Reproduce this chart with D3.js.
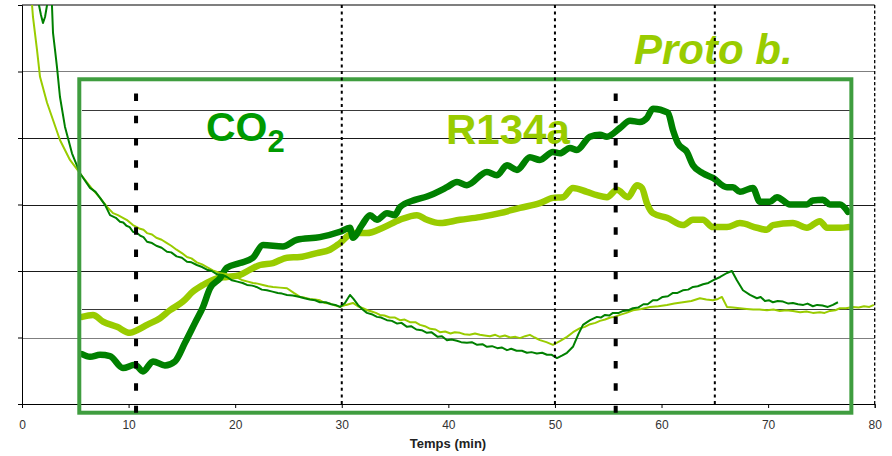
<!DOCTYPE html>
<html>
<head>
<meta charset="utf-8">
<script src="https://cdn.jsdelivr.net/npm/d3@7/dist/d3.min.js"></script>
<style>
  body { margin: 0; background: #fff; }
  svg { display: block; }
  text { font-family: "Liberation Sans", Arial, sans-serif; }
</style>
</head>
<body>
<svg id="chart" width="892" height="456"></svg>
<script>
// Time axis (min)
const timeTicks = [0, 10, 20, 30, 40, 50, 60, 70, 80];
// Horizontal grid levels (value axis has no labels)
const gridLevels = [1, 2, 3, 4, 5];
const minorLevels = [1, 5];
// Event markers (min)
const dottedMarkers = [30, 50, 65];
const dashedMarkers = [10.7, 55.7];

// Smoothed curves [time, value]
const co2Smooth = [
  [5.63,0.75],[6.38,0.71],[7.32,0.74],[8.26,0.72],[9.47,0.54],[10.6,0.59],[11.35,0.49],
  [12.29,0.64],[13.41,0.58],[14.35,0.64],[15.29,0.92],[16.23,1.22],[16.98,1.46],[17.64,1.74],
  [18.57,1.89],[19.23,2.05],[20.45,2.12],[21.67,2.20],[22.61,2.39],[24.48,2.37],[25.8,2.47],
  [27.95,2.51],[29.83,2.59],[30.77,2.65],[31.05,2.50],[31.89,2.69],[32.65,2.84],[33.3,2.77],
  [34.24,2.87],[34.99,2.84],[35.46,2.96],[36.87,3.07],[37.99,3.12],[39.87,3.26],[40.81,3.34],
  [41.74,3.29],[43.62,3.49],[44.56,3.44],[45.5,3.59],[46.44,3.52],[47.65,3.71],[48.59,3.67],
  [49.81,3.79],[50.47,3.77],[51.41,3.85],[52.06,3.82],[53.28,4.02],[54.22,4.05],[54.88,4.02],
  [56.1,4.15],[57.04,4.26],[57.97,4.24],[58.63,4.30],[59.19,4.44],[60.6,4.38],[61.07,4.12],
  [61.54,3.92],[62.38,3.79],[62.95,3.59],[63.88,3.47],[64.82,3.40],[66.14,3.26],[66.7,3.26],
  [67.35,3.19],[68.57,3.25],[69.23,3.04],[70.17,3.04],[70.83,3.11],[72.05,3.00],[73.64,3.00],
  [74.2,3.06],[75.14,3.07],[75.8,3.00],[76.74,3.00],[77.49,2.89]
];
const r134aSmooth = [
  [5.63,1.31],[6.66,1.34],[7.6,1.24],[8.91,1.16],[10.13,1.07],[10.79,1.11],[11.73,1.19],
  [12.95,1.29],[13.88,1.41],[15.1,1.54],[16.04,1.69],[16.98,1.79],[18.29,1.89],[19.23,1.91],
  [20.45,1.94],[21.39,2.02],[22.33,2.09],[23.55,2.12],[24.86,2.20],[26.08,2.21],[27.67,2.27],
  [28.89,2.32],[29.83,2.42],[31.05,2.57],[32.36,2.57],[33.86,2.65],[35.46,2.77],[37.05,2.84],
  [37.99,2.77],[39.21,2.72],[41.09,2.77],[42.96,2.81],[44.84,2.87],[46.72,2.95],[48.59,3.02],
  [49.81,3.10],[50.75,3.11],[51.69,3.25],[53.0,3.19],[53.94,3.14],[54.88,3.11],[55.82,3.22],
  [56.85,3.11],[57.69,3.29],[58.16,3.25],[58.63,3.02],[59.19,2.87],[60.51,2.80],[62.01,2.69],
  [62.95,2.77],[63.88,2.77],[64.82,2.66],[66.14,2.66],[67.35,2.72],[68.95,2.65],[69.89,2.62],
  [70.45,2.69],[72.33,2.72],[73.64,2.65],[74.86,2.75],[75.52,2.65],[76.74,2.65],[77.49,2.66]
];
// Raw curves [time, value]
const co2Raw = [
  [1.3,6.3],[1.59,6.0],[1.78,5.85],[1.97,5.73],[2.16,5.82],[2.35,6.0],[2.44,6.15],[2.67,6.15],
  [2.81,6.0],[2.91,5.58],[3.1,5.32],[3.28,5.07],[3.56,4.62],[4.03,4.17],[4.69,3.77],[5.44,3.47],
  [6.38,3.25],[6.9,3.19],[7.32,3.10],[7.8,2.99],[8.26,2.84],[8.8,2.80],[9.19,2.74],[9.5,2.73],
  [9.8,2.68],[10.1,2.66],[10.41,2.59],[10.8,2.57],[11.1,2.53],[11.4,2.51],[11.73,2.44],
  [12.2,2.42],[12.6,2.38],[13.1,2.35],[13.6,2.29],[14.0,2.28],[14.5,2.22],[15.0,2.20],
  [15.48,2.14],[15.9,2.13],[16.4,2.09],[16.9,2.06],[17.35,2.02],[17.8,2.00],[18.3,1.95],
  [18.8,1.94],[19.23,1.91],[19.7,1.86],[20.2,1.84],[20.7,1.82],[21.11,1.79],[21.6,1.78],
  [22.0,1.76],[22.5,1.72],[22.98,1.71],[23.5,1.69],[24.0,1.67],[24.4,1.66],[24.86,1.64],
  [25.4,1.63],[26.08,1.61],[26.5,1.59],[27.0,1.57],[27.5,1.56],[27.95,1.53],[28.5,1.53],
  [29.0,1.50],[29.4,1.49],[29.83,1.46],[30.3,1.52],[30.77,1.64],[31.1,1.58],[31.52,1.49],
  [31.9,1.43],[32.36,1.37],[32.8,1.35],[33.3,1.31],[33.7,1.30],[34.24,1.26],[34.7,1.25],
  [35.2,1.21],[35.6,1.22],[36.12,1.16],[36.5,1.17],[37.0,1.12],[37.5,1.11],[37.99,1.07],
  [38.4,1.08],[39.0,1.01],[39.4,1.02],[39.87,0.96],[40.3,0.97],[40.8,0.95],[41.2,0.93],
  [41.74,0.92],[42.2,0.93],[42.7,0.89],[43.2,0.90],[43.62,0.86],[44.1,0.87],[44.6,0.84],
  [45.0,0.85],[45.5,0.81],[45.9,0.83],[46.4,0.80],[46.9,0.80],[47.37,0.77],[47.8,0.78],
  [48.3,0.76],[48.8,0.77],[49.25,0.74],[49.7,0.74],[50.19,0.69],[50.7,0.73],[51.13,0.77],
  [51.69,0.86],[52.2,1.05],[52.63,1.19],[53.3,1.26],[53.94,1.31],[54.3,1.30],[54.7,1.34],
  [55.1,1.33],[55.44,1.37],[56.0,1.37],[56.4,1.40],[56.9,1.41],[57.32,1.44],[57.8,1.45],
  [58.3,1.50],[58.7,1.50],[59.19,1.56],[59.6,1.56],[60.1,1.61],[60.6,1.62],[61.07,1.67],
  [61.5,1.67],[62.0,1.71],[62.5,1.72],[62.95,1.76],[63.4,1.77],[63.9,1.80],[64.4,1.82],
  [64.82,1.86],[65.5,1.91],[66.14,1.97],[66.6,2.00],[67.07,1.86],[67.64,1.71],[68.3,1.64],
  [68.95,1.59],[69.3,1.61],[69.7,1.55],[70.1,1.56],[70.45,1.53],[70.9,1.55],[71.4,1.54],
  [71.9,1.51],[72.33,1.52],[72.8,1.50],[73.3,1.49],[73.7,1.51],[74.2,1.47],[74.6,1.49],
  [75.1,1.48],[75.6,1.46],[76.08,1.49],[76.55,1.53]
];
const r134aRaw = [
  [0.7,6.4],[0.94,6.0],[1.03,5.82],[1.41,5.32],[1.69,4.92],[2.35,4.53],[2.91,4.27],[3.56,3.97],
  [4.5,3.67],[5.72,3.41],[6.5,3.25],[7.32,3.10],[8.0,2.96],[8.54,2.87],[9.0,2.84],[9.47,2.80],
  [9.9,2.76],[10.41,2.69],[11.0,2.64],[11.4,2.62],[11.73,2.57],[12.2,2.55],[12.6,2.50],
  [13.1,2.47],[13.6,2.42],[14.0,2.38],[14.5,2.32],[15.0,2.27],[15.48,2.21],[15.9,2.19],
  [16.4,2.13],[16.9,2.10],[17.35,2.06],[17.9,2.01],[18.57,1.97],[19.2,1.95],[19.79,1.91],
  [20.2,1.90],[20.7,1.86],[21.2,1.84],[21.67,1.82],[22.1,1.81],[22.6,1.79],[23.1,1.77],
  [23.55,1.76],[24.2,1.75],[24.86,1.74],[25.5,1.67],[26.08,1.61],[26.5,1.60],[27.0,1.58],
  [27.5,1.57],[27.95,1.56],[28.4,1.52],[28.9,1.51],[29.4,1.48],[29.83,1.46],[30.4,1.49],
  [31.05,1.52],[31.5,1.47],[31.99,1.44],[32.4,1.41],[32.8,1.39],[33.2,1.37],[33.58,1.34],
  [34.0,1.33],[34.5,1.30],[35.0,1.30],[35.46,1.26],[35.9,1.27],[36.4,1.23],[36.9,1.23],
  [37.34,1.19],[37.8,1.17],[38.3,1.13],[38.8,1.12],[39.21,1.08],[39.7,1.09],[40.2,1.06],
  [40.6,1.08],[41.09,1.07],[41.5,1.05],[42.0,1.04],[42.5,1.06],[42.96,1.04],[43.4,1.03],
  [43.9,1.02],[44.4,1.04],[44.84,1.01],[45.3,1.03],[45.8,1.00],[46.3,1.01],[46.72,0.99],
  [47.2,1.02],[47.65,1.04],[48.1,1.00],[48.59,0.96],[49.2,0.93],[49.81,0.89],[50.5,0.95],
  [51.13,1.01],[51.7,1.08],[52.35,1.14],[52.8,1.16],[53.3,1.20],[53.8,1.22],[54.22,1.25],
  [54.7,1.27],[55.2,1.30],[55.6,1.31],[56.1,1.34],[56.7,1.37],[57.32,1.41],[58.1,1.43],
  [58.91,1.46],[59.7,1.47],[60.51,1.49],[61.2,1.51],[62.01,1.53],[62.8,1.55],[63.6,1.59],
  [64.2,1.57],[64.82,1.56],[65.3,1.58],[65.67,1.61],[66.14,1.46],[66.7,1.45],[67.35,1.44],
  [68.0,1.43],[68.6,1.42],[69.2,1.42],[69.89,1.41],[70.5,1.42],[71.1,1.40],[71.7,1.41],
  [72.33,1.40],[73.0,1.38],[73.6,1.39],[74.2,1.37],[74.86,1.38],[75.3,1.37],[75.8,1.40],
  [76.3,1.41],[76.74,1.44],[77.3,1.44],[77.95,1.46],[78.5,1.45],[79.0,1.47],[79.5,1.46],
  [79.92,1.49]
];

const svg = d3.select("#chart");
const x = d3.scaleLinear().domain([0, 80]).range([22, 874.7]);
const y = d3.scaleLinear().domain([0, 6]).range([404, 5]);

const LIGHT = "#99cc00", DARK = "#008000", TEXT_DARK = "#009a00", FRAME = "#3f9d3f";

svg.append("defs").append("clipPath").attr("id", "plot-clip")
  .append("rect")
  .attr("x", x(0)).attr("y", y(6))
  .attr("width", x(80) - x(0)).attr("height", y(0) - y(6));

// Horizontal grid
svg.append("g").selectAll("line").data(gridLevels).join("line")
  .attr("x1", x(0)).attr("x2", x(80))
  .attr("y1", d => Math.round(y(d)) + 0.5).attr("y2", d => Math.round(y(d)) + 0.5)
  .attr("stroke", d => minorLevels.includes(d) ? "#7f7f7f" : "#1a1a1a")
  .attr("stroke-width", 1);

// Inner reference lines of the highlighted window
const innerRefs = [
  { v: 4.42, from: 5.63, to: 77.67 },
  { v: 1.43, from: 5.63, to: 80 }
];
svg.append("g").selectAll("line").data(innerRefs).join("line")
  .attr("x1", d => x(d.from)).attr("x2", d => x(d.to))
  .attr("y1", d => Math.round(y(d.v)) + 0.5).attr("y2", d => Math.round(y(d.v)) + 0.5)
  .attr("stroke", "#3a3a3a").attr("stroke-width", 1);

// Axes
const xAxis = svg.append("g").attr("transform", `translate(0,${y(0)})`)
  .call(d3.axisBottom(x).tickValues(timeTicks).tickSize(4).tickPadding(12).tickFormat(d3.format("d")));
xAxis.select(".domain").attr("stroke", "#000");
xAxis.selectAll(".tick line").attr("stroke", "#000");
xAxis.selectAll(".tick text").attr("font-size", 12).attr("fill", "#333")
  .attr("font-family", "'Liberation Sans', Arial, sans-serif");

const yAxis = svg.append("g").attr("transform", `translate(${x(0)},0)`)
  .call(d3.axisLeft(y).tickValues([0, 1, 2, 3, 4, 5, 6]).tickSize(4).tickFormat(""));
yAxis.select(".domain").attr("stroke", "#000");
yAxis.selectAll(".tick line").attr("stroke", "#000");

// Top border
svg.append("line")
  .attr("x1", x(0)).attr("x2", x(80)).attr("y1", y(6)).attr("y2", y(6))
  .attr("stroke", "#000").attr("stroke-width", 1.2);

// Curves
const plot = svg.append("g").attr("clip-path", "url(#plot-clip)");
const smoothLine = d3.line().x(d => x(d[0])).y(d => y(d[1])).curve(d3.curveMonotoneX);
const rawLine = d3.line().x(d => x(d[0])).y(d => y(d[1])).curve(d3.curveLinear);

plot.append("path").datum(r134aSmooth).attr("d", smoothLine)
  .attr("fill", "none").attr("stroke", LIGHT).attr("stroke-width", 6.5)
  .attr("stroke-linejoin", "round").attr("stroke-linecap", "round");
plot.append("path").datum(co2Smooth).attr("d", smoothLine)
  .attr("fill", "none").attr("stroke", DARK).attr("stroke-width", 6.5)
  .attr("stroke-linejoin", "round").attr("stroke-linecap", "round");
plot.append("path").datum(r134aRaw).attr("d", rawLine)
  .attr("fill", "none").attr("stroke", LIGHT).attr("stroke-width", 2)
  .attr("stroke-linejoin", "round");
plot.append("path").datum(co2Raw).attr("d", rawLine)
  .attr("fill", "none").attr("stroke", DARK).attr("stroke-width", 2)
  .attr("stroke-linejoin", "round");

// Highlighted window
svg.append("rect")
  .attr("x", x(5.375)).attr("y", y(4.883))
  .attr("width", x(77.81) - x(5.375)).attr("height", y(-0.131) - y(4.883))
  .attr("fill", "none").attr("stroke", FRAME).attr("stroke-width", 4);

// Labels
const co2Label = svg.append("text")
  .attr("x", 206).attr("y", 141)
  .attr("font-size", 41).attr("font-weight", "bold").attr("fill", TEXT_DARK);
co2Label.append("tspan").text("CO");
co2Label.append("tspan").attr("font-size", 31).attr("dy", 11).text("2");

svg.append("text").attr("x", 446).attr("y", 144)
  .attr("font-size", 42).attr("font-weight", "bold").attr("fill", LIGHT)
  .text("R134a");

svg.append("text").attr("x", 634).attr("y", 64)
  .attr("font-size", 42).attr("font-weight", "bold").attr("font-style", "italic")
  .attr("fill", LIGHT).text("Proto b.");

// Event markers
svg.append("g").selectAll("line").data(dottedMarkers).join("line")
  .attr("x1", d => x(d)).attr("x2", d => x(d))
  .attr("y1", y(6)).attr("y2", y(0))
  .attr("stroke", "#000").attr("stroke-width", 2).attr("stroke-dasharray", "3,3.6");

svg.append("line")
  .attr("x1", x(80)).attr("x2", x(80)).attr("y1", y(6)).attr("y2", y(0))
  .attr("stroke", "#000").attr("stroke-width", 1.3).attr("stroke-dasharray", "3.3,2.2");

svg.append("g").selectAll("line").data(dashedMarkers).join("line")
  .attr("x1", d => x(d)).attr("x2", d => x(d))
  .attr("y1", y(4.67)).attr("y2", y(-0.13))
  .attr("stroke", "#000").attr("stroke-width", 4).attr("stroke-dasharray", "7.5,14.8");

// Axis title
svg.append("text").attr("x", 448).attr("y", 448)
  .attr("text-anchor", "middle").attr("font-size", 13).attr("font-weight", "bold")
  .attr("fill", "#222").text("Temps (min)");
</script>
</body>
</html>
